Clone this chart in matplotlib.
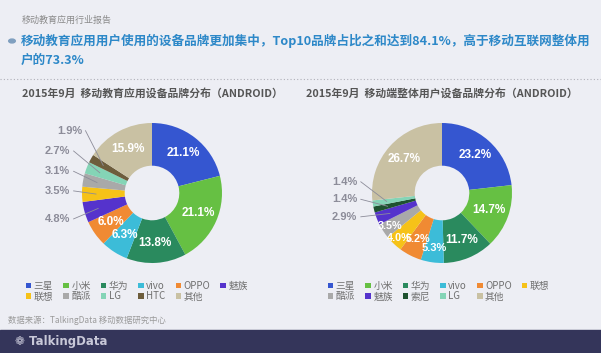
import matplotlib
matplotlib.use("Agg")
import matplotlib.pyplot as plt
import numpy as np

plt.rcParams['font.family'] = ['Noto Sans CJK SC', 'DejaVu Sans']

# ---- data ----
left_brands = ['三星', '小米', '华为', 'vivo', 'OPPO', '魅族', '联想', '酷派', 'LG', 'HTC', '其他']
left_values = [21.1, 21.1, 13.8, 6.3, 6.0, 4.8, 3.5, 3.1, 2.7, 1.9, 15.9]
right_brands = ['三星', '小米', '华为', 'vivo', 'OPPO', '联想', '酷派', '魅族', '索尼', 'LG', '其他']
right_values = [23.2, 14.7, 11.7, 5.3, 5.2, 4.0, 3.5, 2.9, 1.4, 1.4, 26.7]

left_outside = ['魅族', '联想', '酷派', 'LG', 'HTC']
right_outside = ['魅族', '索尼', 'LG']

left_title = '2015年9月  移动教育应用设备品牌分布（ANDROID）'
right_title = '2015年9月  移动端整体用户设备品牌分布（ANDROID）'

brand_colors = {
    '三星': '#3556d0', '小米': '#66c043', '华为': '#2a8a5e', 'vivo': '#3cbcd8',
    'OPPO': '#f08a33', '魅族': '#5533cc', '联想': '#f6c218', '酷派': '#a9a9a9',
    'LG': '#84d4b6', 'HTC': '#6d5d3c', '索尼': '#1e5230', '其他': '#c9c1a3',
}

W, H = 601, 353
BG = '#edeef4'
fig = plt.figure(figsize=(W / 100, H / 100), dpi=100, facecolor=BG)

# header
fig.text(22 / W, 1 - 20 / H, '移动教育应用行业报告', fontsize=6.5, color='#8a8a8a', va='center')
fig.patches.append(plt.Circle((12 / W, 1 - 41 / H), 0.0055, transform=fig.transFigure,
                              color='#7f9fbf', figure=fig))
fig.text(21 / W, 1 - 41 / H, '移动教育应用用户使用的设备品牌更加集中，Top10品牌占比之和达到84.1%，高于移动互联网整体用',
         fontsize=9.1, color='#2d88c8', weight='bold', va='center')
fig.text(21 / W, 1 - 60 / H, '户的73.3%', fontsize=9.1, color='#2d88c8', weight='bold', va='center')
fig.add_artist(plt.Line2D([0, 1], [1 - 79 / H, 1 - 79 / H], transform=fig.transFigure,
                          color='#b0b0b8', lw=0.8, ls=(0, (1, 2))))

R_PX = 70


def label_radius(v):
    if v >= 5.5:
        return 0.72, 8.5
    if v >= 5.3:
        return 0.8, 8
    if v >= 5.0:
        return 0.74, 7.8
    return 0.88, 7.8


def draw_pie(cx, cy, brands, values, outside, title, outside_pos, legend_x):
    ax = fig.add_axes([(cx - 2 * R_PX) / W, 1 - (cy + 2 * R_PX) / H, 4 * R_PX / W, 4 * R_PX / H])
    ax.set_zorder(0)
    colors = [brand_colors[b] for b in brands]
    wedges, _ = ax.pie(values, colors=colors, startangle=90, counterclock=False,
                       radius=1, wedgeprops=dict(width=0.61, edgecolor='none'))
    ax.set_xlim(-2, 2)
    ax.set_ylim(-2, 2)
    ax.set_aspect('equal')
    ax.axis('off')
    k = 0
    for w, b, v in zip(wedges, brands, values):
        mid = np.deg2rad((w.theta1 + w.theta2) / 2)
        label = f'{v:.1f}%'
        if b in outside:
            tx, ty = outside_pos[k]
            k += 1
            ax.text(tx, ty, label, ha='right', va='center', fontsize=8,
                    color='#8c8c99', weight='bold', family=['Liberation Sans', 'DejaVu Sans'])
            ex, ey = 0.8 * np.cos(mid), 0.8 * np.sin(mid)
            ax.plot([tx + 0.05, ex], [ty, ey], color='#8c8c99', lw=0.6)
        else:
            r, fs = label_radius(v)
            ax.text(r * np.cos(mid), r * np.sin(mid), label, ha='center', va='center',
                    fontsize=fs, color='white', weight='bold',
                    family=['Liberation Sans', 'DejaVu Sans'])
    fig.text(cx / W, 1 - 93 / H, title, ha='center', va='center', fontsize=7.8,
             color='#555555', weight='bold')
    order = [0, 6, 1, 7, 2, 8, 3, 9, 4, 10, 5]
    leg = fig.legend([wedges[i] for i in order], [brands[i] for i in order], ncol=6,
                     loc='upper left', bbox_to_anchor=(legend_x / W, 1 - 281 / H),
                     frameon=False, fontsize=7, handlelength=0.55, handleheight=0.55,
                     handletextpad=0.25, columnspacing=1.05, labelspacing=0.05,
                     borderaxespad=0, borderpad=0)
    for t in leg.get_texts():
        t.set_color('#707070')


draw_pie(152, 193, left_brands, left_values, left_outside, left_title,
         [(-1.17, -0.37), (-1.17, 0.03), (-1.17, 0.31), (-1.17, 0.6), (-1.0, 0.89)], 26)
draw_pie(442, 193, right_brands, right_values, right_outside, right_title,
         [(-1.21, -0.34), (-1.21, -0.09), (-1.21, 0.16)], 328)

# source and footer
fig.text(8 / W, 1 - 320 / H, '数据来源：TalkingData 移动数据研究中心', fontsize=6, color='#9a9a9a', va='center')
fig.patches.append(plt.Rectangle((0, 0), 1, 23 / H, transform=fig.transFigure,
                                 color='#34355a', figure=fig))
fig.text(15 / W, 11 / H, '❁ TalkingData', fontsize=8.5, color='#c8c8d8', weight='bold', va='center',
         family=['DejaVu Sans'])

fig.savefig('out.png', dpi=100, facecolor=BG)
